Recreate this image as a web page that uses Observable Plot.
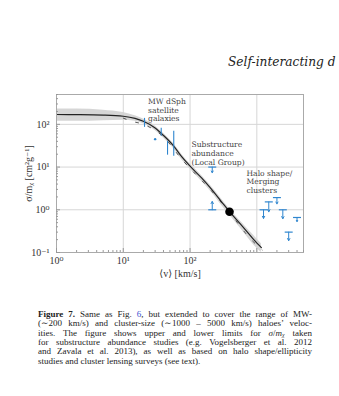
<!DOCTYPE html>
<html>
<head>
<meta charset="utf-8">
<script src="https://cdn.jsdelivr.net/npm/d3@7"></script>
<script src="https://cdn.jsdelivr.net/npm/@observablehq/plot@0.6"></script>
<style>
  html, body { margin: 0; padding: 0; background: #fff; }
  body { width: 339px; height: 396px; overflow: hidden; position: relative; font-family: "Liberation Serif", "DejaVu Serif", serif; color: #222; }
  #hdr { position: absolute; left: 228px; top: 55px; font-family: "DejaVu Serif", serif; font-size: 12.2px; font-style: italic; white-space: nowrap; color: #222; }
  #chart { position: absolute; left: 0; top: 80px; }
  #cap { position: absolute; left: 38px; top: 310px; width: 274px; font-size: 9px; line-height: 9.35px; color: #222; }
  #cap .l { text-align: justify; text-align-last: justify; white-space: nowrap; }
  #cap .l.last { text-align-last: left; }
  #cap sub { font-size: 6px; vertical-align: -1px; line-height: 0; }
</style>
</head>
<body>
<div id="hdr">Self-interacting d</div>
<div id="chart"></div>
<div id="cap">
  <div class="l"><b>Figure 7.</b> Same as Fig. <span style="color:#3b4fd1">6</span>, but extended to cover the range of MW-</div>
  <div class="l">(∼200 km/s) and cluster-size (∼1000 – 5000 km/s) haloes’ veloc-</div>
  <div class="l">ities. The figure shows upper and lower limits for <i>σ</i>/<i>m<sub>χ</sub></i> taken</div>
  <div class="l">for substructure abundance studies (e.g. Vogelsberger et al. 2012</div>
  <div class="l">and Zavala et al. 2013), as well as based on halo shape/ellipticity</div>
  <div class="l last">studies and cluster lensing surveys (see text).</div>
</div>
<script>
// ---- data ----
// model curve sigma/m vs <v>
const curveV     = [1, 2, 5, 10, 15, 20, 30, 40, 57, 76, 100, 150, 200, 300, 390, 600, 900, 1170];
const curveSigma = [170, 169, 165, 155, 138, 118, 82, 55, 31, 17, 10.5, 5.5, 3.3, 1.5, 0.9, 0.42, 0.2, 0.13];
const bandUpper  = [230, 228, 215, 190, 160, 133, 92, 62, 35, 19.5, 12, 6.3, 3.8, 1.75, 1.05, 0.5, 0.25, 0.16];
const bandLower  = [118, 118, 122, 125, 118, 104, 72, 48, 27, 14.5, 9, 4.6, 2.8, 1.25, 0.75, 0.33, 0.15, 0.1];
// secondary dashed curve
const dashV      = [10, 13, 20, 40, 77, 100, 200, 400, 800, 1200];
const dashSigma  = [140, 120, 100, 51, 14.5, 9.3, 3.0, 0.82, 0.21, 0.115];

// MW dSph error bars
const barV  = [20.8, 37, 46, 57];
const barLo = [85, 53, 19, 18];
const barHi = [138, 81, 40, 69];
const dotV = [30];
const dotSigma = [45];

// upper limits (arrow down) and lower limits (arrow up)
const limV   = [215, 215, 1260, 1510, 2000, 2450, 4000, 3000];
const limCap = [10, 1, 1, 1.53, 1.93, 1, 0.66, 0.30];
const limTip = [7.4, 1.56, 0.63, 0.9, 1.38, 0.62, 0.53, 0.19];

// MW-size halo point
const mwV = [390];
const mwSigma = [0.9];

// annotations
const labelText  = ["MW dSph\nsatellite\ngalaxies", "Substructure\nabundance\n(Local Group)", "Halo shape/\nMerging\nclusters"];
const labelV     = [23.5, 105, 700];
const labelSigma = [420, 41, 8.8];

// ticks
const xTicks = [1, 10, 100];
const xTickLabels = ["10⁰", "10¹", "10²"];
const xGrid = [1, 10, 100, 1000];
const yTicks = [0.1, 1, 10, 100];
const yTickLabels = ["10⁻¹", "10⁰", "10¹", "10²"];

// ---- build ----
const curve = curveV.map((v, i) => ({v, s: curveSigma[i], lo: bandLower[i], hi: bandUpper[i]}));
const dashed = dashV.map((v, i) => ({v, s: dashSigma[i]}));
const bars = barV.map((v, i) => ({v, lo: barLo[i], hi: barHi[i]}));
const dots = dotV.map((v, i) => ({v, s: dotSigma[i]}));
const limits = limV.map((v, i) => ({v, cap: limCap[i], tip: limTip[i]}));
const mw = mwV.map((v, i) => ({v, s: mwSigma[i]}));
const labels = labelText.map((t, i) => ({t, v: labelV[i], s: labelSigma[i]}));

const xFmt = d => xTickLabels[xTicks.indexOf(d)] ?? "";
const yFmt = d => yTickLabels[yTicks.indexOf(d)] ?? "";

const xMinor = d3.scaleLog().domain([1, 5000]).ticks().filter(t => !xGrid.includes(t));
const yMinor = d3.scaleLog().domain([0.1, 500]).ticks().filter(t => !yTicks.includes(t));

const blue = "#2f86cf";
const capSymbol = { draw(ctx, size) { const r = Math.sqrt(size / Math.PI); ctx.moveTo(-r, 0); ctx.lineTo(r, 0); } };

const chart = Plot.plot({
  width: 339,
  height: 200,
  marginLeft: 56,
  marginRight: 36,
  marginTop: 14,
  marginBottom: 28,
  style: { fontFamily: "'Liberation Serif', 'DejaVu Serif', serif", fontSize: "10px", color: "#333", background: "transparent" },
  x: { type: "log", domain: [1, 5000] },
  y: { type: "log", domain: [0.1, 500] },
  marks: [
    Plot.gridX(xGrid, { stroke: "#d6d6d6", strokeOpacity: 1, strokeWidth: 1 }),
    Plot.gridY(yTicks, { stroke: "#d6d6d6", strokeOpacity: 1, strokeWidth: 1 }),
    Plot.areaY(curve, { x: "v", y1: "lo", y2: "hi", fill: "#d2d2d2", fillOpacity: 0.9, curve: "monotone-x" }),
    Plot.line(dashed, { x: "v", y: "s", stroke: "#555", strokeWidth: 1, strokeDasharray: "3,10", curve: "monotone-x" }),
    Plot.line(curve, { x: "v", y: "s", stroke: "#222", strokeWidth: 1.2, curve: "monotone-x" }),
    Plot.ruleX(bars, { x: "v", y1: "lo", y2: "hi", stroke: blue, strokeWidth: 1.1 }),
    Plot.dot(dots, { x: "v", y: "s", r: 1.2, fill: blue }),
    Plot.arrow(limits, { x1: "v", x2: "v", y1: "cap", y2: "tip", stroke: blue, strokeWidth: 1, headLength: 3.5 }),
    Plot.dot(limits, { x: "v", y: "cap", r: 4, symbol: capSymbol, stroke: blue, strokeWidth: 1.2, fill: "none" }),
    Plot.dot(mw, { x: "v", y: "s", r: 4.3, fill: "#000" }),
    Plot.text(labels, { x: "v", y: "s", text: "t", textAnchor: "start", lineAnchor: "top", lineHeight: 1.15, fontSize: 7.6, fontFamily: "'DejaVu Serif', serif", fill: "#444" }),
    Plot.frame({ stroke: "#aaa", strokeWidth: 1 }),
    Plot.axisX(xTicks, { tickSize: 0, tickPadding: 4, tickFormat: xFmt, fontSize: 10, label: "⟨v⟩ [km/s]", labelAnchor: "center", labelArrow: "none", labelOffset: 24 }),
    Plot.axisX(xGrid, { tickSize: -4, tickFormat: () => "", label: null, stroke: "#999" }),
    Plot.axisX(xMinor, { tickSize: -2, tickFormat: () => "", label: null, stroke: "#999" }),
    Plot.axisY(yTicks, { tickSize: 0, tickPadding: 7, tickFormat: yFmt, fontSize: 10, label: "σ/mᵪ [cm²g⁻¹]", labelAnchor: "center", labelArrow: "none", labelOffset: 32 }),
    Plot.axisY(yTicks, { tickSize: -4, tickFormat: () => "", label: null, stroke: "#999" }),
    Plot.axisY(yMinor, { tickSize: -2, tickFormat: () => "", label: null, stroke: "#999" })
  ]
});
document.getElementById("chart").appendChild(chart);
</script>
</body>
</html>
